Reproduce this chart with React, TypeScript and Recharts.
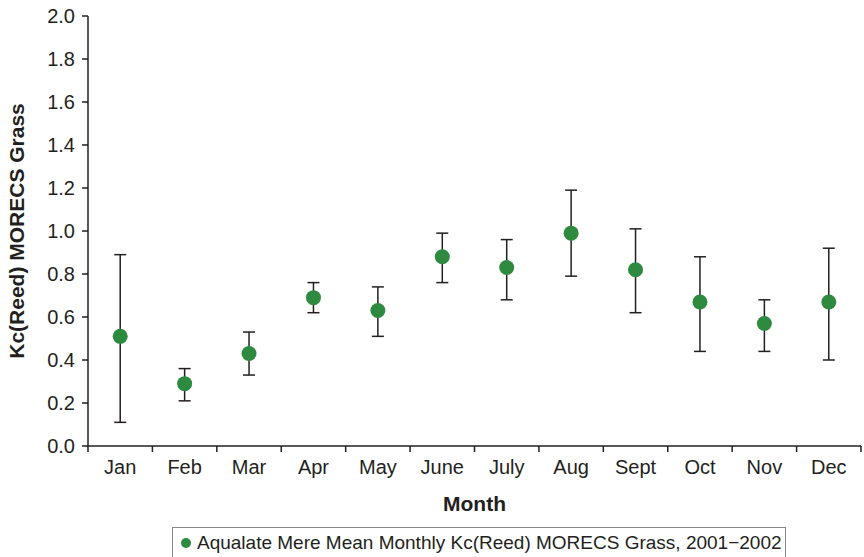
import { ScatterChart, Scatter, XAxis, YAxis, ErrorBar, Legend } from "recharts";

const MONTHS = ["Jan", "Feb", "Mar", "Apr", "May", "June", "July", "Aug", "Sept", "Oct", "Nov", "Dec"];
const MEAN_KC = [0.51, 0.29, 0.43, 0.69, 0.63, 0.88, 0.83, 0.99, 0.82, 0.67, 0.57, 0.67];
const UPPER_KC = [0.89, 0.36, 0.53, 0.76, 0.74, 0.99, 0.96, 1.19, 1.01, 0.88, 0.68, 0.92];
const LOWER_KC = [0.11, 0.21, 0.33, 0.62, 0.51, 0.76, 0.68, 0.79, 0.62, 0.44, 0.44, 0.40];
const Y_TICKS = [0, 0.2, 0.4, 0.6, 0.8, 1.0, 1.2, 1.4, 1.6, 1.8, 2.0];
const X_TICKS = [0, 1, 2, 3, 4, 5, 6, 7, 8, 9, 10, 11, 12];

const SERIES_NAME = "Aqualate Mere Mean Monthly Kc(Reed) MORECS Grass, 2001\u22122002";
const GREEN = "#2e8a3f";
const INK = "#231f20";
const FONT = "'Liberation Sans', Arial, Helvetica, sans-serif";

const WIDTH = 864;
const HEIGHT = 557;
const MARGIN = { top: 16, right: 3, left: 0, bottom: 0 };
const Y_AXIS_WIDTH = 88;
const BAND = (WIDTH - MARGIN.left - MARGIN.right - Y_AXIS_WIDTH) / MONTHS.length;

const data = MONTHS.map((m, i) => ({
  month: m,
  x: i + 0.5,
  kc: MEAN_KC[i],
  err: [MEAN_KC[i] - LOWER_KC[i], UPPER_KC[i] - MEAN_KC[i]],
}));

function MonthTick({ x, y, payload }: any) {
  const label = MONTHS[payload.value];
  if (!label) return null;
  return (
    <text x={x + BAND / 2} y={y} dy="0.71em" textAnchor="middle" fontSize={20} fill={INK} fontFamily={FONT}>
      {label}
    </text>
  );
}

function Dot({ cx, cy }: any) {
  return <circle cx={cx} cy={cy} r={7.5} fill={GREEN} />;
}

function LegendBox() {
  return (
    <div style={{ paddingTop: 11 }}>
      <div
        style={{
          height: 30,
          boxSizing: "border-box",
          borderTop: "1px solid #8a8a8a",
          borderLeft: "1px solid #8a8a8a",
          borderRight: "1px solid #8a8a8a",
          display: "flex",
          alignItems: "center",
          paddingLeft: 8,
          fontFamily: FONT,
          fontSize: 19,
          color: INK,
          whiteSpace: "nowrap",
        }}
      >
        <span
          style={{ display: "inline-block", width: 10, height: 10, borderRadius: "50%", background: GREEN, marginRight: 6 }}
        />
        {SERIES_NAME}
      </div>
    </div>
  );
}

export default function App() {
  return (
    <div style={{ position: "absolute", left: 0, top: 0, background: "#fff" }}>
      <ScatterChart width={WIDTH} height={HEIGHT} margin={MARGIN}>
        <XAxis
          type="number"
          dataKey="x"
          domain={[0, 12]}
          ticks={X_TICKS}
          interval={0}
          height={70}
          tick={<MonthTick />}
          tickSize={6}
          tickMargin={8}
          axisLine={{ stroke: INK, strokeWidth: 1.5 }}
          tickLine={{ stroke: INK, strokeWidth: 1.5 }}
          label={{ value: "Month", position: "insideBottom", offset: 5, fontSize: 21, fontWeight: "bold", fill: INK, fontFamily: FONT }}
        />
        <YAxis
          type="number"
          dataKey="kc"
          domain={[0, 2]}
          ticks={Y_TICKS}
          interval={0}
          width={Y_AXIS_WIDTH}
          tickFormatter={(v: number) => v.toFixed(1)}
          tick={{ fontSize: 20, fill: INK, fontFamily: FONT }}
          tickSize={6}
          tickMargin={7}
          axisLine={{ stroke: INK, strokeWidth: 1.5 }}
          tickLine={{ stroke: INK, strokeWidth: 1.5 }}
          label={{
            value: "Kc(Reed) MORECS Grass",
            angle: -90,
            position: "insideLeft",
            offset: 17,
            style: { textAnchor: "middle" },
            fontSize: 21,
            fontWeight: "bold",
            fill: INK,
            fontFamily: FONT,
          }}
        />
        <Legend verticalAlign="bottom" content={<LegendBox />} wrapperStyle={{ left: 172, width: 614 }} />
        <Scatter name={SERIES_NAME} data={data} fill={GREEN} shape={<Dot />} isAnimationActive={false}>
          <ErrorBar dataKey="err" direction="y" width={6} stroke={INK} strokeWidth={1.5} />
        </Scatter>
      </ScatterChart>
    </div>
  );
}
